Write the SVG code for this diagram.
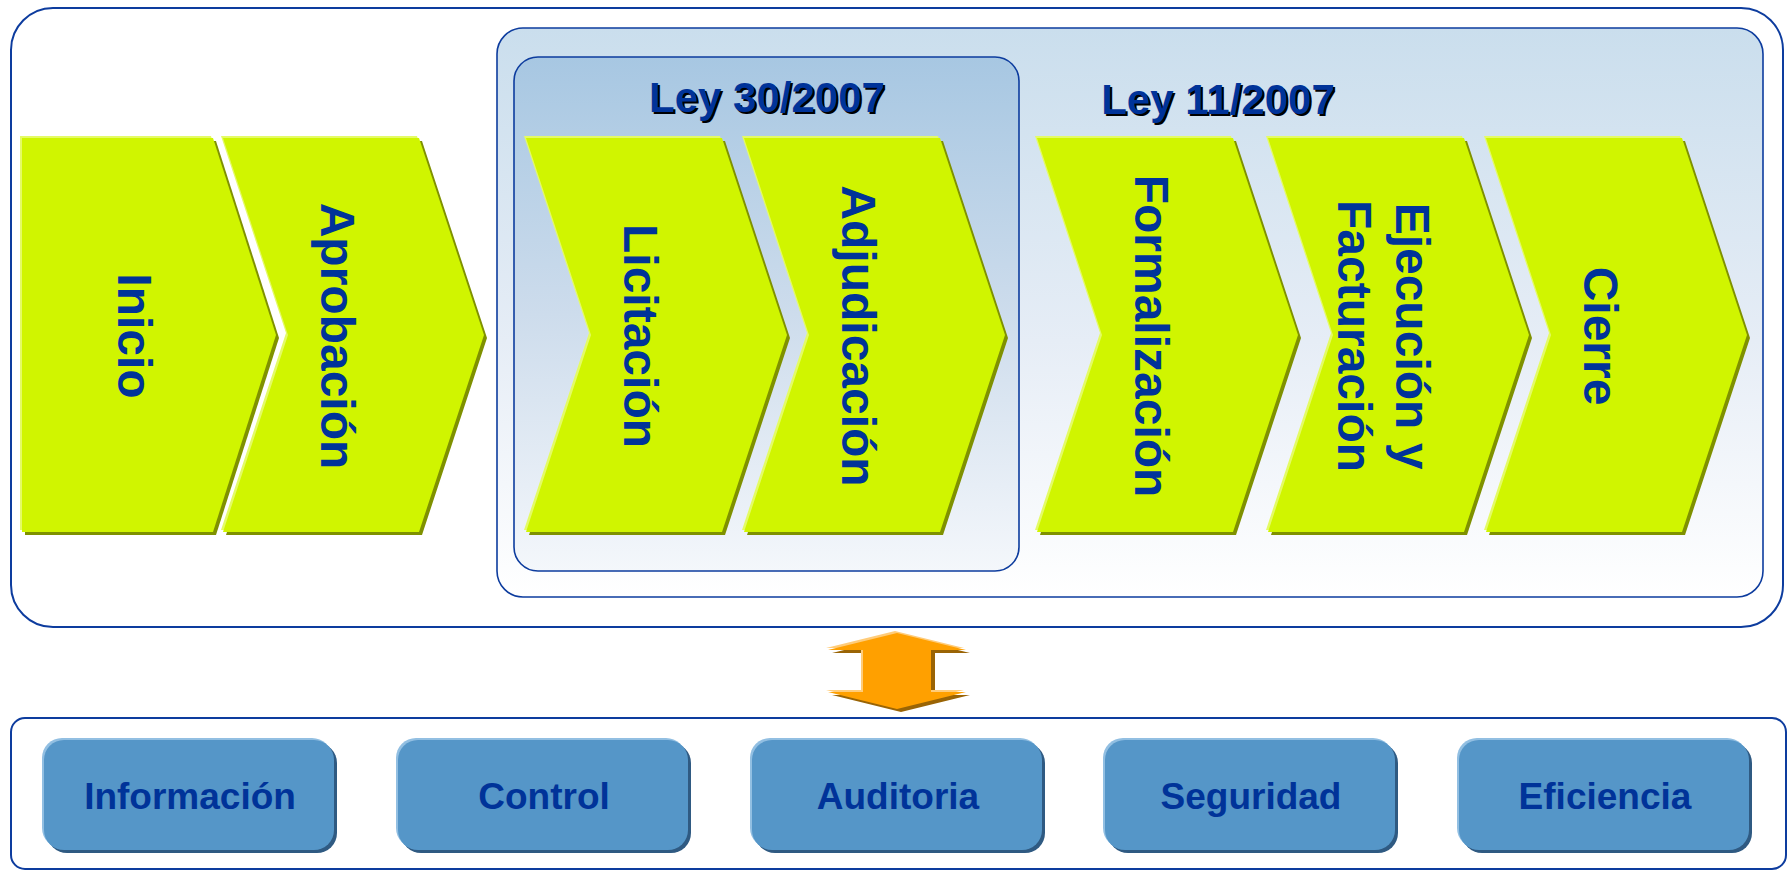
<svg xmlns="http://www.w3.org/2000/svg" xmlns:xlink="http://www.w3.org/1999/xlink" width="1789" height="871" viewBox="0 0 1789 871">
<style>
.frame{fill:#ffffff;stroke:#0d3c9e;stroke-width:2}
.t{font-family:"Liberation Sans",Arial,sans-serif;font-weight:bold;fill:#003399}
.ch{font-size:48px;text-anchor:middle}
.ley{font-size:42px;text-anchor:middle}
.leysh{fill:#000000}
.btn{font-size:37px;text-anchor:middle}
.cv-sh{fill:#7f9100}
.cv-hi{fill:#e4fb66}
.cv{fill:#d0f500}
.b-sh{fill:#2f5a82}
.b-hi{fill:#92bfe2}
.b{fill:#5596c8}
</style>
<defs>
<linearGradient id="g11" x1="0" y1="0" x2="0" y2="1">
<stop offset="0" stop-color="#cadeed"/>
<stop offset="0.55" stop-color="#e6edf6"/>
<stop offset="1" stop-color="#ffffff"/>
</linearGradient>
<linearGradient id="g30" x1="0" y1="0" x2="0" y2="1">
<stop offset="0" stop-color="#a7c7e2"/>
<stop offset="0.5" stop-color="#cddcec"/>
<stop offset="1" stop-color="#f4f7fb"/>
</linearGradient>
<polygon id="chevN" points="0,0 196,0 261,197 196,394 0,394 65,197"/>
<polygon id="chevS" points="0,0 191,0 254,197 191,394 0,394"/>
<rect id="btnR" x="0" y="0" width="290" height="110" rx="20" ry="20"/>
</defs>

<g id="top-frame">
<rect class="frame" x="11" y="8" width="1772" height="619" rx="42" ry="42"/>
</g>

<g id="ley11-box">
<rect x="497" y="28" width="1266" height="569" rx="26" ry="26" fill="url(#g11)" stroke="#0d3c9e" stroke-width="1.6"/>
<text class="t ley leysh" x="1220" y="116">Ley 11/2007</text>
<text class="t ley" x="1218" y="114">Ley 11/2007</text>
</g>

<g id="ley30-box">
<rect x="514" y="57" width="505" height="514" rx="24" ry="24" fill="url(#g30)" stroke="#0d3c9e" stroke-width="1.6"/>
<text class="t ley leysh" x="769" y="114">Ley 30/2007</text>
<text class="t ley" x="767" y="112">Ley 30/2007</text>
</g>

<g id="inicio">
<use xlink:href="#chevS" class="cv-sh" x="25" y="141"/>
<use xlink:href="#chevS" class="cv-hi" x="20" y="136"/>
<use xlink:href="#chevS" class="cv" x="22" y="138"/>
<text class="t ch" transform="translate(118,336) rotate(90)">Inicio</text>
</g>

<g id="aprobacion">
<use xlink:href="#chevN" class="cv-sh" x="226" y="141"/>
<use xlink:href="#chevN" class="cv-hi" x="221" y="136"/>
<use xlink:href="#chevN" class="cv" x="223" y="138"/>
<text class="t ch" transform="translate(321,336) rotate(90)">Aprobación</text>
</g>

<g id="licitacion">
<use xlink:href="#chevN" class="cv-sh" x="529" y="141"/>
<use xlink:href="#chevN" class="cv-hi" x="524" y="136"/>
<use xlink:href="#chevN" class="cv" x="526" y="138"/>
<text class="t ch" transform="translate(624,336) rotate(90)">Licitación</text>
</g>

<g id="adjudicacion">
<use xlink:href="#chevN" class="cv-sh" x="747" y="141"/>
<use xlink:href="#chevN" class="cv-hi" x="742" y="136"/>
<use xlink:href="#chevN" class="cv" x="744" y="138"/>
<text class="t ch" transform="translate(842,336) rotate(90)">Adjudicación</text>
</g>

<g id="formalizacion">
<use xlink:href="#chevN" class="cv-sh" x="1040" y="141"/>
<use xlink:href="#chevN" class="cv-hi" x="1035" y="136"/>
<use xlink:href="#chevN" class="cv" x="1037" y="138"/>
<text class="t ch" transform="translate(1135,336) rotate(90)">Formalización</text>
</g>

<g id="ejecucion">
<use xlink:href="#chevN" class="cv-sh" x="1271" y="141"/>
<use xlink:href="#chevN" class="cv-hi" x="1266" y="136"/>
<use xlink:href="#chevN" class="cv" x="1268" y="138"/>
<text class="t ch" transform="translate(1396,336) rotate(90)">Ejecución y</text>
<text class="t ch" transform="translate(1338,336) rotate(90)">Facturación</text>
</g>

<g id="cierre">
<use xlink:href="#chevN" class="cv-sh" x="1489" y="141"/>
<use xlink:href="#chevN" class="cv-hi" x="1484" y="136"/>
<use xlink:href="#chevN" class="cv" x="1486" y="138"/>
<text class="t ch" transform="translate(1584,336) rotate(90)">Cierre</text>
</g>

<g id="connectors">
<polygon points="901,636 970,653 935,653 935,695 970,695 901,712 832,695 867,695 867,653 832,653" fill="#9a6405"/>
<polygon points="895,631 964,648 929,648 929,690 964,690 895,707 826,690 861,690 861,648 826,648" fill="#ffcc7a"/>
<polygon points="897,633 966,650 931,650 931,692 966,692 897,709 828,692 863,692 863,650 828,650" fill="#ffa000"/>
</g>

<g id="bottom-frame">
<rect class="frame" x="11" y="718" width="1775" height="151" rx="14" ry="14"/>
</g>

<g id="informacion">
<use xlink:href="#btnR" class="b-sh" x="47" y="743"/>
<use xlink:href="#btnR" class="b-hi" x="42" y="738"/>
<use xlink:href="#btnR" class="b" x="44" y="740"/>
<text class="t btn" x="190" y="809">Información</text>
</g>

<g id="control">
<use xlink:href="#btnR" class="b-sh" x="401" y="743"/>
<use xlink:href="#btnR" class="b-hi" x="396" y="738"/>
<use xlink:href="#btnR" class="b" x="398" y="740"/>
<text class="t btn" x="544" y="809">Control</text>
</g>

<g id="auditoria">
<use xlink:href="#btnR" class="b-sh" x="755" y="743"/>
<use xlink:href="#btnR" class="b-hi" x="750" y="738"/>
<use xlink:href="#btnR" class="b" x="752" y="740"/>
<text class="t btn" x="898" y="809">Auditoria</text>
</g>

<g id="seguridad">
<use xlink:href="#btnR" class="b-sh" x="1108" y="743"/>
<use xlink:href="#btnR" class="b-hi" x="1103" y="738"/>
<use xlink:href="#btnR" class="b" x="1105" y="740"/>
<text class="t btn" x="1251" y="809">Seguridad</text>
</g>

<g id="eficiencia">
<use xlink:href="#btnR" class="b-sh" x="1462" y="743"/>
<use xlink:href="#btnR" class="b-hi" x="1457" y="738"/>
<use xlink:href="#btnR" class="b" x="1459" y="740"/>
<text class="t btn" x="1605" y="809">Eficiencia</text>
</g>
</svg>
